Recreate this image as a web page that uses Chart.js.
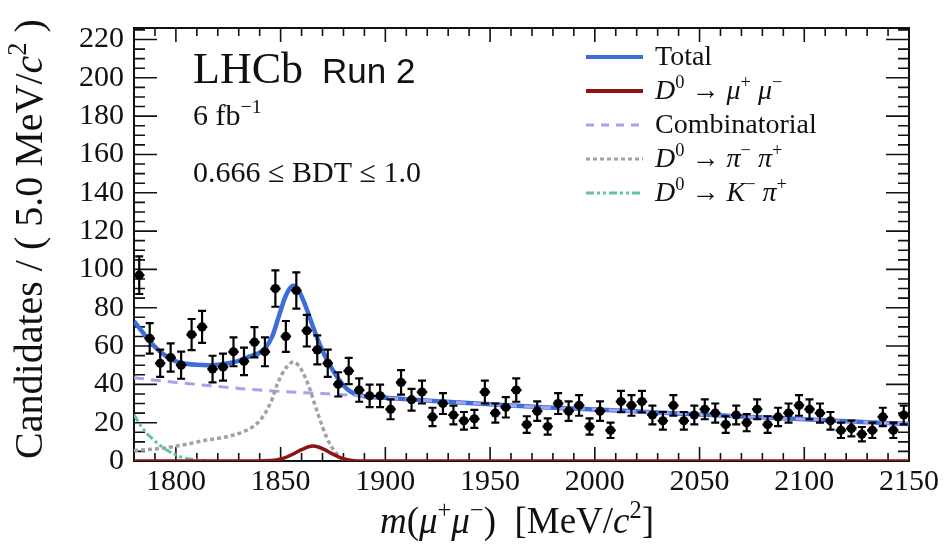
<!DOCTYPE html>
<html>
<head>
<meta charset="utf-8">
<script src="https://cdn.jsdelivr.net/npm/chart.js@4.4.0/dist/chart.umd.min.js"></script>
<style>
html,body{margin:0;padding:0;background:#fff;}
#wrap{width:946px;height:553px;position:relative;}
</style>
</head>
<body>
<div id="wrap"><canvas id="c" width="946" height="553"></canvas></div>
<script>
// ---------------- data ----------------
const binCenters = [1782.5,1787.5,1792.5,1797.5,1802.5,1807.5,1812.5,1817.5,1822.5,1827.5,
1832.5,1837.5,1842.5,1847.5,1852.5,1857.5,1862.5,1867.5,1872.5,1877.5,
1882.5,1887.5,1892.5,1897.5,1902.5,1907.5,1912.5,1917.5,1922.5,1927.5,
1932.5,1937.5,1942.5,1947.5,1952.5,1957.5,1962.5,1967.5,1972.5,1977.5,
1982.5,1987.5,1992.5,1997.5,2002.5,2007.5,2012.5,2017.5,2022.5,2027.5,
2032.5,2037.5,2042.5,2047.5,2052.5,2057.5,2062.5,2067.5,2072.5,2077.5,
2082.5,2087.5,2092.5,2097.5,2102.5,2107.5,2112.5,2117.5,2122.5,2127.5,
2132.5,2137.5,2142.5,2147.5];
const counts = [97,64,51,54,50,66,70,48,49,57,
52,62,57,90,65,89,68,58,51,40,
47,37,34,34,27,41,32,36,23,30,
24,21,22,36,25,28,37,19,26,18,
30,26,29,18,26,16,31,29,31,24,
21,29,21,24,27,25,19,24,20,27,
19,23,25,29,27,25,21,16,17,14,
16,23,16,24];
const binHalfWidth = 2.5;

const totalMass = [1780,1785,1790,1795,1800,1805,1810,1815,1820,1825,1830,1835,1840,1843,1846,1849,1852,1854,1856,1858,1861,1864,1867,1870,1873,1876,1879,1882,1885,1890,1900,1925,1950,1975,2000,2025,2050,2075,2100,2125,2150];
const totalVal  = [73,66,59.5,55,52,50.8,50.2,50,50.3,51,52.3,54.5,56.5,59.5,65,75,85,89.5,91.5,90,83.5,74.5,65.5,57.5,51,45.5,40.8,37.3,35.3,33.8,33,31.2,29.6,28,26.9,25.6,24.3,23,21.8,20.5,19.3];

const combMass = [1780,1790,1800,1810,1820,1830,1840,1850,1860,1870,1880,1890,1900,1925,1950,1975,2000,2025,2050,2075,2100,2125,2150];
const combVal  = [43.5,42.2,41,39.9,38.9,37.9,37,36.3,35.7,35.2,34.6,33.8,33,31.2,29.6,28,26.9,25.6,24.3,23,21.8,20.5,19.3];

const pipiMass = [1780,1790,1797,1805,1813,1820,1826,1832,1837,1840,1843,1846,1848,1851,1853,1856,1858,1860,1862,1864,1866,1868,1870,1872,1874,1876,1878,1880,1884];
const pipiVal  = [5.5,6.3,7.2,8.7,10.6,11.8,13.1,15.2,18.1,21,25.7,32.5,39,46,49.2,51.7,50.5,47.5,43,37.4,30.5,24,17.8,12.2,8,4.7,2.3,0.8,0];

const mumuMass = [1780,1840,1845,1848,1851,1854,1857,1860,1863,1865.5,1868,1871,1874,1877,1880,1884,1890,2150];
const mumuVal  = [0,0,0.2,0.5,1.3,2.6,4.2,5.9,7.3,7.8,7.3,5.9,4.1,2.5,1.2,0.3,0,0];

const kpiMass = [1780,1782,1784,1786.5,1789,1792,1796,1799,1802,1806,1810,1815];
const kpiVal  = [24.3,20.5,17.3,14,11.4,8.5,5.5,3.7,2.2,1.2,0.5,0];

const xTickLabels = [1800,1850,1900,1950,2000,2050,2100,2150];
const yTickLabels = [0,20,40,60,80,100,120,140,160,180,200,220];

// ---------------- helpers ----------------
const COL = {total:'#3d6ddb', mumu:'#8c1414', comb:'#a3a3ef', pipi:'#a2a2a2', kpi:'#62c39e'};
const SERIF = '"Liberation Serif", "Times New Roman", serif';
const zip = (xs, ys) => xs.map((x,i)=>({x:x, y:ys[i]}));

function drawRich(ctx, x, y, parts, base) {
  let cx = x;
  for (const p of parts) {
    const size = p.sup ? base*0.66 : base;
    ctx.font = (p.italic ? 'italic ' : '') + size + 'px ' + SERIF;
    const yy = p.sup ? y - base*0.40 : y;
    ctx.fillText(p.t, cx, yy);
    cx += ctx.measureText(p.t).width;
  }
  return cx - x;
}
function measureRich(ctx, parts, base) {
  let w = 0;
  for (const p of parts) {
    const size = p.sup ? base*0.66 : base;
    ctx.font = (p.italic ? 'italic ' : '') + size + 'px ' + SERIF;
    w += ctx.measureText(p.t).width;
  }
  return w;
}

const hepPlugin = {
  id: 'hep',
  beforeDatasetsDraw(chart) {
    const ctx = chart.ctx, a = chart.chartArea, xs = chart.scales.x, ys = chart.scales.y;
    ctx.save();
    ctx.strokeStyle = '#111';
    ctx.lineWidth = 2;
    ctx.strokeRect(a.left, a.top, a.right - a.left, a.bottom - a.top);
    ctx.lineWidth = 1.6;
    ctx.beginPath();
    for (let v = 1780; v <= 2150; v += 10) {
      const px = xs.getPixelForValue(v);
      const len = (v % 50 === 0) ? 14 : 8;
      ctx.moveTo(px, a.bottom); ctx.lineTo(px, a.bottom - len);
      ctx.moveTo(px, a.top); ctx.lineTo(px, a.top + len);
    }
    for (let v = 0; v <= 226; v += 5) {
      const py = ys.getPixelForValue(v);
      const len = (v % 20 === 0) ? 23 : 11;
      ctx.moveTo(a.left, py); ctx.lineTo(a.left + len, py);
      ctx.moveTo(a.right, py); ctx.lineTo(a.right - len, py);
    }
    ctx.stroke();
    ctx.restore();
  },
  beforeDatasetDraw(chart, args) {
    if (args.index !== 0) return;
    const ctx = chart.ctx, xs = chart.scales.x, ys = chart.scales.y;
    ctx.save();
    ctx.strokeStyle = '#000';
    ctx.lineWidth = 2.2;
    ctx.beginPath();
    binCenters.forEach((c, i) => {
      const v = counts[i], e = Math.sqrt(v);
      const px = xs.getPixelForValue(c), py = ys.getPixelForValue(v);
      const t = ys.getPixelForValue(v + e), b = ys.getPixelForValue(v - e);
      ctx.moveTo(px, t); ctx.lineTo(px, b);
      ctx.moveTo(px - 4, t); ctx.lineTo(px + 4, t);
      ctx.moveTo(px - 4, b); ctx.lineTo(px + 4, b);
      ctx.moveTo(xs.getPixelForValue(c - binHalfWidth), py);
      ctx.lineTo(xs.getPixelForValue(c + binHalfWidth), py);
    });
    ctx.stroke();
    ctx.restore();
  },
  afterDraw(chart) {
    const ctx = chart.ctx;
    ctx.save();
    ctx.fillStyle = '#111';
    ctx.textBaseline = 'alphabetic';
    ctx.textAlign = 'left';

    // LHCb label
    ctx.font = '44px ' + SERIF;
    ctx.fillText('LHCb', 193, 83);
    ctx.font = '35px "Liberation Sans", Arial, sans-serif';
    ctx.fillText('Run 2', 322, 83);
    drawRich(ctx, 193, 125, [{t:'6 fb'},{t:'\u22121', sup:true}], 30);
    ctx.font = '30px ' + SERIF;
    ctx.fillText('0.666 \u2264 BDT \u2264 1.0', 193, 182);

    // Legend
    const legend = [
      {color:COL.total, dash:[], w:4, parts:[{t:'Total'}]},
      {color:COL.mumu, dash:[], w:4, parts:[{t:'D',italic:true},{t:'0',sup:true},{t:' \u2192 '},{t:'\u03bc',italic:true},{t:'+',sup:true},{t:' '},{t:'\u03bc',italic:true},{t:'\u2212',sup:true}]},
      {color:COL.comb, dash:[8,7], w:3, parts:[{t:'Combinatorial'}]},
      {color:COL.pipi, dash:[4,3], w:3, parts:[{t:'D',italic:true},{t:'0',sup:true},{t:' \u2192 '},{t:'\u03c0',italic:true},{t:'\u2212',sup:true},{t:' '},{t:'\u03c0',italic:true},{t:'+',sup:true}]},
      {color:COL.kpi, dash:[8,3,3,3,3,3], w:3, parts:[{t:'D',italic:true},{t:'0',sup:true},{t:' \u2192 '},{t:'K',italic:true},{t:'\u2212',sup:true},{t:' '},{t:'\u03c0',italic:true},{t:'+',sup:true}]}
    ];
    legend.forEach((r, i) => {
      const base = 65 + i*34;
      const ly = base - 8;
      ctx.save();
      ctx.strokeStyle = r.color; ctx.lineWidth = r.w; ctx.setLineDash(r.dash);
      ctx.beginPath(); ctx.moveTo(586, ly); ctx.lineTo(643, ly); ctx.stroke();
      ctx.restore();
      drawRich(ctx, 655, base, r.parts, 28);
    });

    // X title
    const xParts = [{t:'m',italic:true},{t:'('},{t:'\u03bc',italic:true},{t:'+',sup:true},{t:'\u03bc',italic:true},{t:'\u2212',sup:true},{t:')  [MeV/'},{t:'c',italic:true},{t:'2',sup:true},{t:']'}];
    const xw = measureRich(ctx, xParts, 37);
    drawRich(ctx, 517 - xw/2, 533, xParts, 37);

    // Y title
    const yParts = [{t:'Candidates / ( 5.0 MeV/'},{t:'c',italic:true},{t:'2',sup:true},{t:' )'}];
    const yw = measureRich(ctx, yParts, 40);
    ctx.translate(42, 239);
    ctx.rotate(-Math.PI/2);
    drawRich(ctx, -yw/2, 0, yParts, 40);
    ctx.restore();
  }
};

const lineDs = (label, data, color, width, dash) => ({
  label, data, type:'scatter', showLine:true, borderColor:color, backgroundColor:color,
  borderWidth:width, borderDash:dash, pointRadius:0, pointHoverRadius:0,
  cubicInterpolationMode:'monotone', fill:false
});

new Chart(document.getElementById('c'), {
  type: 'scatter',
  data: {
    datasets: [
      {label:'Data', data: zip(binCenters, counts), pointRadius:4.6, pointStyle:'circle',
       backgroundColor:'#000', borderColor:'#000', borderWidth:0, showLine:false},
      lineDs('D0 -> mu+ mu-', zip(mumuMass, mumuVal), COL.mumu, 3.5, []),
      lineDs('D0 -> K- pi+', zip(kpiMass, kpiVal), COL.kpi, 3, [8,3,3,3,3,3]),
      lineDs('D0 -> pi- pi+', zip(pipiMass, pipiVal), COL.pipi, 3.5, [4,3]),
      lineDs('Combinatorial', zip(combMass, combVal), COL.comb, 3, [10,7]),
      lineDs('Total', zip(totalMass, totalVal), COL.total, 4.5, [])
    ]
  },
  options: {
    responsive:false, animation:false, devicePixelRatio:1,
    layout:{padding:{top:12, right:37, left:0, bottom:0}},
    plugins:{legend:{display:false}, tooltip:{enabled:false}},
    events:[],
    scales:{
      x:{type:'linear', min:1780, max:2150,
         grid:{display:false, drawTicks:false}, border:{display:false},
         afterFit(s){ s.height = 92; },
         afterBuildTicks(s){ s.ticks = xTickLabels.map(v=>({value:v})); },
         ticks:{autoSkip:false, maxRotation:0, padding:3, color:'#111',
                callback:(v)=>String(v),
                font:{family:SERIF, size:30, lineHeight:1.2}}},
      y:{type:'linear', min:0, max:226,
         grid:{display:false, drawTicks:false}, border:{display:false},
         afterFit(s){ s.width = 134; },
         afterBuildTicks(s){ s.ticks = yTickLabels.map(v=>({value:v})); },
         ticks:{autoSkip:false, padding:10, color:'#111',
                callback:(v)=>String(v),
                font:{family:SERIF, size:30, lineHeight:1.2}}}
    }
  },
  plugins:[hepPlugin]
});
</script>
</body>
</html>
